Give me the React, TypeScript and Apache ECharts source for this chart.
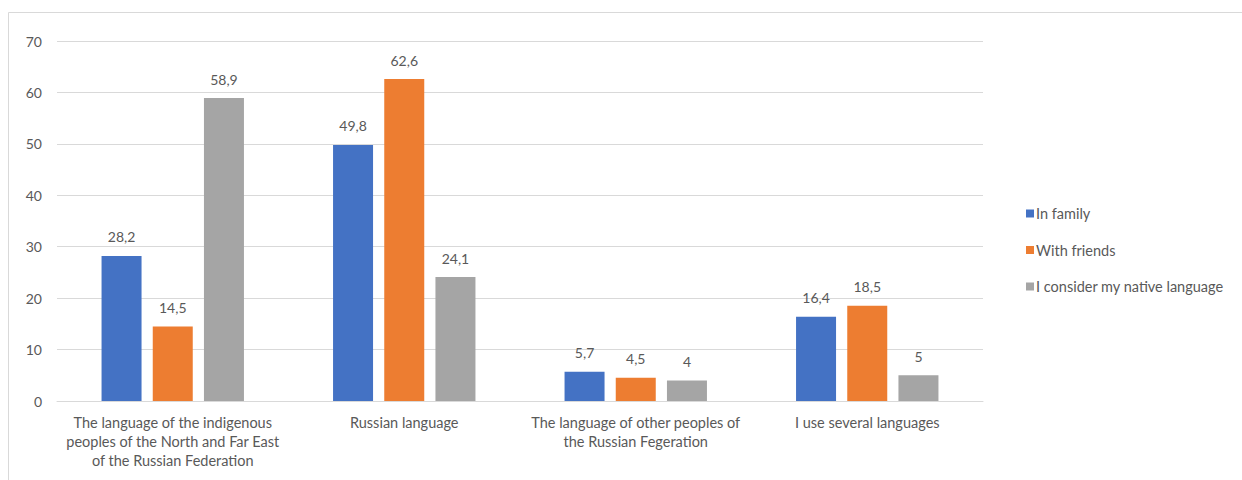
import React, { useEffect, useRef } from "react";
import * as echarts from "echarts";

const categories = [
  "The language of the indigenous\npeoples of the North and Far East\nof the Russian Federation",
  "Russian language",
  "The language of other peoples of\nthe Russian Fegeration",
  "I use several languages",
];
const seriesNames = ["In family", "With friends", "I consider my native language"];
const inFamily = [28.2, 49.8, 5.7, 16.4];
const withFriends = [14.5, 62.6, 4.5, 18.5];
const nativeLanguage = [58.9, 24.1, 4, 5];
const colors = ["#4472C4", "#ED7D31", "#A5A5A5"];

const FONT = "Lato, 'Noto Sans', sans-serif";
const TEXT = "#595959";

export default function App() {
  const ref = useRef<HTMLDivElement>(null);

  useEffect(() => {
    if (!ref.current) return;
    const chart = echarts.init(ref.current, undefined, { renderer: "svg" });
    const values = [inFamily, withFriends, nativeLanguage];
    chart.setOption({
      animation: false,
      backgroundColor: "#ffffff",
      textStyle: { fontFamily: FONT },
      color: colors,
      graphic: [
        {
          type: "rect",
          shape: { x: 8.5, y: 12.5, width: 1260, height: 520 },
          style: { fill: "none", stroke: "#d9d9d9", lineWidth: 1 },
          silent: true,
        },
      ],
      grid: { left: 57, right: 259, top: 41, bottom: 79 },
      legend: {
        orient: "vertical",
        left: 1021,
        top: 201,
        itemWidth: 8,
        itemHeight: 8,
        itemGap: 21.5,
        icon: "rect",
        textStyle: { color: TEXT, fontSize: 14.5, fontFamily: FONT, padding: [0, 0, 0, -3] },
        data: seriesNames,
      },
      xAxis: {
        type: "category",
        data: categories,
        axisTick: { show: false },
        axisLine: { lineStyle: { color: "#d9d9d9", width: 1 } },
        axisLabel: {
          color: TEXT,
          fontSize: 14.5,
          fontFamily: FONT,
          lineHeight: 19,
          margin: 12,
          interval: 0,
          align: "center",
        },
      },
      yAxis: {
        type: "value",
        min: 0,
        max: 70,
        interval: 10,
        axisLine: { show: false },
        axisTick: { show: false },
        splitLine: { lineStyle: { color: "#d9d9d9", width: 1 } },
        axisLabel: { color: TEXT, fontSize: 14, fontFamily: FONT, margin: 15 },
      },
      series: seriesNames.map((name, i) => ({
        name,
        type: "bar",
        data: values[i],
        barWidth: 40,
        barGap: "28%",
        itemStyle: { color: colors[i] },
        label: {
          show: true,
          position: "top",
          distance: 12,
          color: TEXT,
          fontSize: 14,
          fontFamily: FONT,
          formatter: (p: any) => String(p.value).replace(".", ","),
        },
      })),
    });
    return () => chart.dispose();
  }, []);

  return (
    <div
      ref={ref}
      style={{ position: "absolute", left: 0, top: 0, width: 1242, height: 480 }}
    />
  );
}
